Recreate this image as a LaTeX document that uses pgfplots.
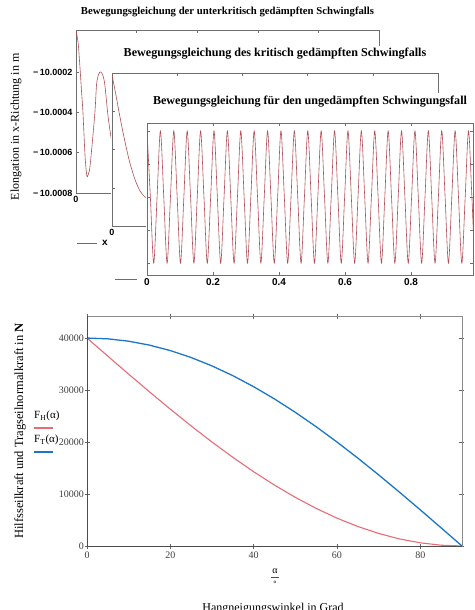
\documentclass[border=0pt]{standalone}
\usepackage{fontspec}
\setmainfont{Liberation Serif}
\newfontfamily\sansf{Liberation Sans}
\usepackage{pgfplots}
\usepackage{pgfplotstable}
\pgfplotsset{compat=1.18}

\definecolor{curvered}{RGB}{178,78,84}
\definecolor{fhred}{RGB}{232,108,118}
\definecolor{ftblue}{RGB}{28,118,200}
\definecolor{framegray}{RGB}{110,110,110}

% underdamped case: t, deviation from -10 m in units of 0.1 mm
\pgfplotstableread{
t y
0 0.05
0.007 -0.55
0.013 -1.75
0.018 -2.9
0.023 -4.03
0.030 -6.2
0.036 -7.16
0.041 -7.05
0.046 -6.71
0.055 -5.3
0.063 -3.88
0.068 -2.6
0.075 -2.1
0.082 -2.0
0.090 -2.23
0.096 -2.74
0.106 -4.23
0.119 -5.52
0.127 -5.7
0.135 -5.5
0.150 -4.3
0.165 -3.0
0.175 -2.8
0.19 -3.3
0.21 -4.9
0.22 -5.1
0.23 -4.9
0.25 -3.5
0.30 -4.7
0.34 -3.5
0.38 -4.4
0.42 -3.7
0.5 -4.1
0.6 -3.95
0.8 -4.0
1.0 -4.0
}\underdamped

% critically damped case
\pgfplotstableread{
t y
0 -0.10
0.012 -1.15
0.025 -2.35
0.040 -3.61
0.055 -4.71
0.071 -5.59
0.086 -6.17
0.101 -6.48
0.117 -6.61
0.15 -6.68
0.2 -6.71
0.3 -6.72
0.6 -6.72
1.0 -6.72
}\critical

% undamped case
\pgfplotstableread{
t y
0.0000 1
0.0102 0
0.0203 -1
0.0305 0
0.0406 1
0.0508 0
0.0609 -1
0.0711 0
0.0812 1
0.0914 0
0.1015 -1
0.1117 0
0.1218 1
0.1320 0
0.1421 -1
0.1523 0
0.1624 1
0.1726 0
0.1827 -1
0.1929 0
0.2030 1
0.2132 0
0.2233 -1
0.2335 0
0.2436 1
0.2538 0
0.2639 -1
0.2741 0
0.2842 1
0.2944 0
0.3045 -1
0.3147 0
0.3248 1
0.3350 0
0.3451 -1
0.3553 0
0.3654 1
0.3756 0
0.3857 -1
0.3959 0
0.4060 1
0.4162 0
0.4263 -1
0.4365 0
0.4466 1
0.4568 0
0.4669 -1
0.4771 0
0.4872 1
0.4974 0
0.5075 -1
0.5177 0
0.5278 1
0.5380 0
0.5481 -1
0.5583 0
0.5684 1
0.5786 0
0.5887 -1
0.5989 0
0.6090 1
0.6192 0
0.6293 -1
0.6395 0
0.6496 1
0.6598 0
0.6699 -1
0.6801 0
0.6902 1
0.7004 0
0.7105 -1
0.7207 0
0.7308 1
0.7410 0
0.7511 -1
0.7613 0
0.7714 1
0.7816 0
0.7917 -1
0.8019 0
0.8120 1
0.8222 0
0.8323 -1
0.8425 0
0.8526 1
0.8628 0
0.8729 -1
0.8831 0
0.8932 1
0.9034 0
0.9135 -1
0.9237 0
0.9338 1
0.9440 0
0.9541 -1
0.9643 0
0.9744 1
0.9846 0
0.9947 -1
1.0048 0
}\undamped

% forces over slope angle
\pgfplotstableread{
a FT FH
0 40000 40000
5 39848 36514
10 39392 33054
15 38637 29647
20 37588 26319
25 36252 23095
30 34641 20000
35 32766 17057
40 30642 14288
45 28284 11716
50 25712 9358
55 22943 7234
60 20000 5359
65 16905 3748
70 13681 2412
75 10353 1363
80 6946 608
85 3486 152
90 0 0
}\forces

\pgfplotsset{
  mcad/.style={
    scale only axis, anchor=south west, clip=true,
    axis line style={framegray, line width=0.6pt},
    tick style={framegray, line width=0.5pt},
    tick align=inside, major tick length=3pt,
    tick label style={font=\sansf\bfseries\fontsize{9}{10}\selectfont},
    /pgf/number format/assume math mode=true,
    xmin=0, xtick={0,0.2,0.4,0.6,0.8},
    title style={at={(0.5,1)}, anchor=center, font=\bfseries\fontsize{12.1}{14}\selectfont},
  },
}

\begin{document}
\begin{tikzpicture}
\useasboundingbox (0pt,0pt) rectangle (474pt,-610pt);

% --- top: three overlapping Mathcad plots ---
\begin{axis}[mcad, at={(76pt,-193pt)}, width=303pt, height=163pt,
    xmax=1, ymin=-8, ymax=0.08,
    ytick={-8,-6,-4,-2},
    yticklabels={−\,10.0008,−\,10.0006,−\,10.0004,−\,10.0002},
    title={Bewegungsgleichung der unterkritisch gedämpften Schwingfalls},
    title style={yshift=12pt, font=\bfseries\fontsize{10.7}{12}\selectfont}]
\addplot[curvered, line width=0.6pt, smooth] table[x=t, y=y] {\underdamped};
\end{axis}
\node[rotate=90, font=\fontsize{12}{14}\selectfont] at (16pt,-127pt) {Elongation in x-Richtung in m};

\fill[white] (111pt,-46pt) rectangle (480pt,-252pt);
\begin{axis}[mcad, at={(112pt,-226pt)}, width=326pt, height=153pt,
    xmax=1, ymin=-8, ymax=0,
    ytick={-6,-4,-2}, yticklabels={,,},
    title={Bewegungsgleichung des kritisch gedämpften Schwingfalls},
    title style={yshift=13pt}]
\addplot[curvered, line width=0.6pt, smooth] table[x=t, y=y] {\critical};
\end{axis}
\draw[curvered, line width=0.6pt] (77pt,-243pt) -- (97pt,-243pt);
\node[font=\sansf\bfseries\fontsize{10}{12}\selectfont] at (105pt,-243pt) {x};

\fill[white] (146pt,-93pt) rectangle (480pt,-300pt);
\begin{axis}[mcad, at={(147pt,-275pt)}, width=326pt, height=152pt,
    xmax=0.988, ymin=-1.18, ymax=1.12,
    ytick={-1,-0.5,0,0.5,1}, yticklabels={,,,,},
    xticklabel style={font=\sansf\bfseries\fontsize{10}{12}\selectfont},
    title={Bewegungsgleichung für den ungedämpften Schwingungsfall},
    title style={yshift=15pt}]
\addplot[curvered, line width=0.6pt, smooth] table[x=t, y=y] {\undamped};
\end{axis}
\draw[curvered, line width=0.6pt] (115pt,-279pt) -- (137pt,-279pt);

% --- bottom: rope forces ---
\begin{axis}[at={(87pt,-546pt)}, anchor=south west, scale only axis,
    width=375pt, height=230pt,
    xmin=0, xmax=90, ymin=0, ymax=44240,
    xtick={0,20,40,60,80}, ytick={0,10000,20000,30000,40000},
    scaled y ticks=false,
    /pgf/number format/set thousands separator={},
    /pgf/number format/assume math mode=true,
    tick label style={font=\fontsize{10}{12}\selectfont, text=black!75},
    yticklabel style={xshift=3pt},
    axis line style={black!45, line width=0.6pt},
    tick style={black!60, line width=0.5pt},
    tick align=center, major tick length=5pt]
\addplot[fhred, line width=1.1pt] table[x=a, y=FH] {\forces};
\addplot[ftblue, line width=1.3pt] table[x=a, y=FT] {\forces};
\draw[black!70, line width=0.7pt] (rel axis cs:0,1) -- (rel axis cs:0,0) -- (rel axis cs:1,0);
\end{axis}
\node[rotate=90, font=\fontsize{12.5}{14}\selectfont] at (20pt,-431pt) {Hilfsseilkraft und Tragseilnormalkraft in \textbf{N}};
\node[anchor=west, inner sep=0pt, font=\fontsize{11}{12}\selectfont] at (34pt,-416pt) {F\textsubscript{H}(α)};
\draw[fhred, line width=1.1pt] (34pt,-428pt) -- (53pt,-428pt);
\node[anchor=west, inner sep=0pt, font=\fontsize{11}{12}\selectfont] at (34pt,-440pt) {F\textsubscript{T}(α)};
\draw[ftblue, line width=1.3pt] (34pt,-452pt) -- (53pt,-452pt);
\node[font=\fontsize{10}{12}\selectfont] at (275pt,-571pt) {α};
\draw[black!70, line width=0.4pt] (271pt,-577.5pt) -- (279pt,-577.5pt);
\node[font=\fontsize{8}{10}\selectfont] at (275pt,-584pt) {°};
\node[anchor=base, font=\fontsize{12}{14}\selectfont] at (273pt,-611pt) {Hangneigungswinkel in Grad};
\end{tikzpicture}
\end{document}
